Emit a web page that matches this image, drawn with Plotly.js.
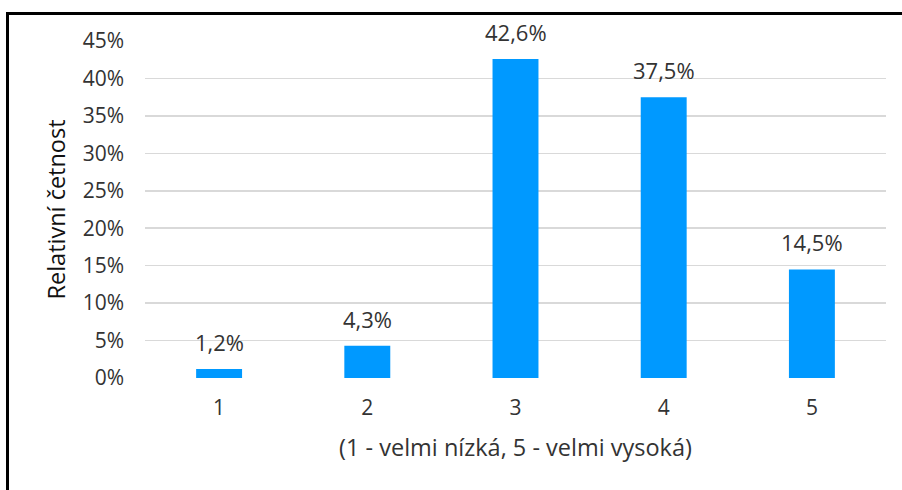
<!DOCTYPE html>
<html>
<head>
<meta charset="utf-8">
<script src="https://cdn.plot.ly/plotly-3.0.1.min.js"></script>
<style>
  html, body { margin: 0; padding: 0; background: #fff; }
  #wrap { position: relative; width: 902px; height: 490px; overflow: hidden; }
  #chart { position: absolute; left: 0; top: 0; width: 902px; height: 490px; }
  #frame { position: absolute; left: 6px; top: 12px; width: 1000px; height: 600px;
           border-left: 3px solid #000; border-top: 3px solid #000; pointer-events: none; }
</style>
</head>
<body>
<div id="wrap">
  <div id="chart"></div>
  <div id="frame"></div>
</div>
<script>
const categories = ["1", "2", "3", "4", "5"];
const values = [1.2, 4.3, 42.6, 37.5, 14.5];
const yTickVals = [0, 5, 10, 15, 20, 25, 30, 35, 40, 45];
const yTickText = ["0%", "5%", "10%", "15%", "20%", "25%", "30%", "35%", "40%", "45%"];
const xTitle = "(1 - velmi nízká, 5 - velmi vysoká)";
const yTitle = "Relativní četnost";

const fontFam = "'Open Sans', sans-serif";
const txtColor = "#333333";
const tickSize = 21;
const titleSize = 23.5;
const labelSize = 22;

const trace = {
  type: "bar",
  x: categories,
  y: values,
  marker: { color: "#0099ff" },
  hoverinfo: "none"
};

const annotations = categories.map((c, i) => ({
  x: i,
  y: values[i],
  xref: "x",
  yref: "y",
  text: values[i].toFixed(1).replace(".", ",") + "%",
  showarrow: false,
  yanchor: "bottom",
  yshift: 10,
  font: { family: fontFam, size: labelSize, color: txtColor }
}));

const layout = {
  width: 902,
  height: 490,
  margin: { l: 145, r: 16, t: 41, b: 112 },
  paper_bgcolor: "#fff",
  plot_bgcolor: "#fff",
  bargap: 0.69,
  showlegend: false,
  font: { family: fontFam, size: tickSize, color: txtColor },
  xaxis: {
    type: "category",
    range: [-0.5, 4.5],
    showgrid: false,
    zeroline: false,
    showline: false,
    ticks: "",
    ticklabelstandoff: 15,
    tickfont: { family: fontFam, size: tickSize, color: txtColor },
    title: { text: xTitle, font: { family: fontFam, size: titleSize, color: txtColor }, standoff: 19 }
  },
  yaxis: {
    range: [0, 45],
    tickvals: yTickVals,
    ticktext: yTickText,
    showgrid: true,
    gridcolor: "#d9d9d9",
    gridwidth: 1.5,
    zeroline: false,
    showline: false,
    ticks: "",
    ticklabelstandoff: 20,
    tickfont: { family: fontFam, size: tickSize, color: txtColor },
    title: { text: yTitle, font: { family: fontFam, size: titleSize, color: "#111" }, standoff: 10 }
  },
  annotations: annotations
};

Plotly.newPlot("chart", [trace], layout, { staticPlot: true, displayModeBar: false });
</script>
</body>
</html>
